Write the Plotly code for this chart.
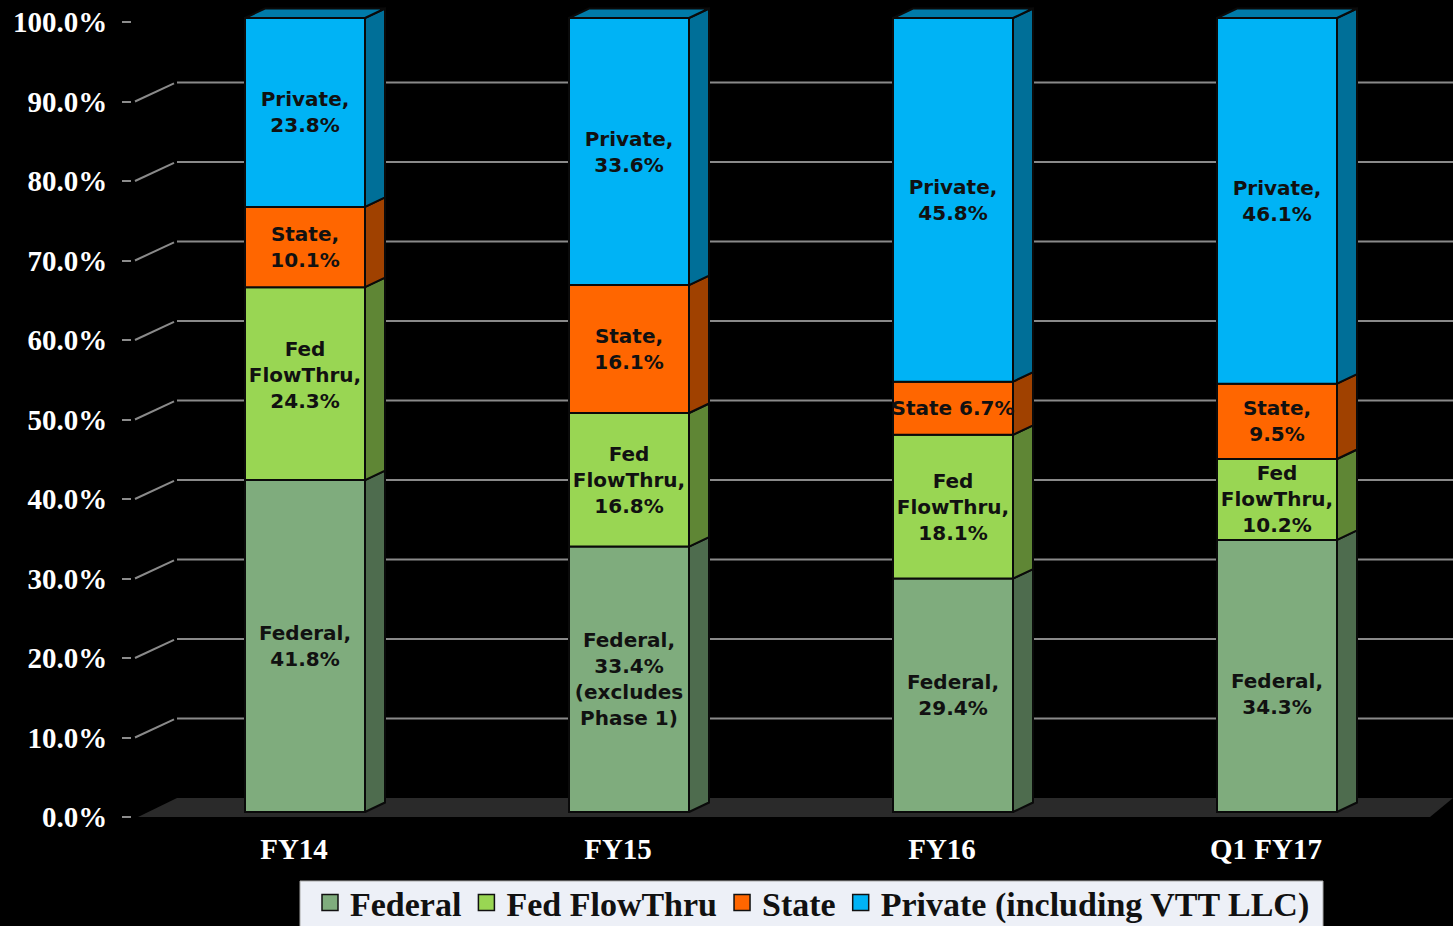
import plotly.graph_objects as go

# ---- data ----
categories = ["FY14", "FY15", "FY16", "Q1 FY17"]
series_names = ["Federal", "Fed FlowThru", "State", "Private (including VTT LLC)"]
federal = [41.8, 33.4, 29.4, 34.3]
flowthru = [24.3, 16.8, 18.1, 10.2]
state = [10.1, 16.1, 6.7, 9.5]
private = [23.8, 33.6, 45.8, 46.1]
federal_labels = ["Federal,<br>41.8%", "Federal,<br>33.4%<br>(excludes<br>Phase 1)", "Federal,<br>29.4%", "Federal,<br>34.3%"]
flowthru_labels = ["Fed<br>FlowThru,<br>24.3%", "Fed<br>FlowThru,<br>16.8%", "Fed<br>FlowThru,<br>18.1%", "Fed<br>FlowThru,<br>10.2%"]
state_labels = ["State,<br>10.1%", "State,<br>16.1%", "State 6.7%", "State,<br>9.5%"]
private_labels = ["Private,<br>23.8%", "Private,<br>33.6%", "Private,<br>45.8%", "Private,<br>46.1%"]
y_ticks = [0, 10, 20, 30, 40, 50, 60, 70, 80, 90, 100]
y_tick_labels = ["0.0%", "10.0%", "20.0%", "30.0%", "40.0%", "50.0%", "60.0%", "70.0%", "80.0%", "90.0%", "100.0%"]

# ---- styles ----
front_colors = ["#7FAC7D", "#99D653", "#FF6600", "#00B3F5"]
side_colors = ["#4E6C4E", "#5F8635", "#A04100", "#006F98"]
top_color = "#007BA9"
floor_color = "#2A2A2A"
grid_color = "#8A8A8A"
SERIF = "Liberation Serif"
SANS = "DejaVu Sans"

# projection constants of the pseudo-3D chart, in axis units
PX_X = 324.0           # pixels per category
PX_Y = 7.95            # pixels per percent
BAR_W = 120 / PX_X
BAR_BASE = 5 / PX_Y
BAR_SCALE = 794 / 795  # front face height of a full 100% stack
DEPTH_X = 20 / PX_X
DEPTH_Y = 9.5 / PX_Y
WALL_X0 = (177 - 305) / PX_X
WALL_DY = 19 / PX_Y
X_RANGE = [(132 - 305) / PX_X, (1453 - 305) / PX_X]
Y_RANGE = [0, 817 / PX_Y]
FLOOR_X0 = (138 - 305) / PX_X
FLOOR_X1 = (1430 - 305) / PX_X
DIAG_X0 = (135 - 305) / PX_X
DIAG_X1 = (174 - 305) / PX_X
LABEL_SHIFT = -11 / PX_X
# label nudges (pixels, up positive) per (series, category); the rest sit centred
label_nudge = {(1, 0): 8.5, (0, 3): -18}
LABEL_DROP = -2

xs = list(range(len(categories)))
stacks = [federal, flowthru, state, private]
labels = [federal_labels, flowthru_labels, state_labels, private_labels]
totals = [sum(s[i] for s in stacks) for i in xs]
# stacked to 100%
shares = [[v / totals[i] * 100 * BAR_SCALE for i, v in enumerate(s)] for s in stacks]

fig = go.Figure()

# floor
fig.add_trace(go.Scatter(
    x=[FLOOR_X0, WALL_X0, X_RANGE[1], FLOOR_X1, FLOOR_X0],
    y=[0, WALL_DY, WALL_DY, 0, 0],
    mode="lines", fill="toself", fillcolor=floor_color, line=dict(width=0),
    showlegend=False, hoverinfo="skip"))

# back-wall gridlines with their diagonals to the axis
for t in y_ticks[1:-1]:
    fig.add_trace(go.Scatter(
        x=[DIAG_X0, DIAG_X1, None, WALL_X0, X_RANGE[1]],
        y=[t, t + WALL_DY - 0.1, None, t + WALL_DY, t + WALL_DY],
        mode="lines", line=dict(color=grid_color, width=2),
        showlegend=False, hoverinfo="skip"))

# side faces and top
cum = [0.0] * len(categories)
bases = []
for vals, col in zip(shares, side_colors):
    px, py = [], []
    base = list(cum)
    for i, x in enumerate(xs):
        y0 = BAR_BASE + cum[i]
        y1 = y0 + vals[i]
        xr = x + BAR_W / 2
        px += [xr, xr + DEPTH_X, xr + DEPTH_X, xr, xr, None]
        py += [y0, y0 + DEPTH_Y, y1 + DEPTH_Y, y1, y0, None]
        cum[i] += vals[i]
    bases.append([b + BAR_BASE for b in base])
    fig.add_trace(go.Scatter(x=px, y=py, mode="lines", fill="toself", fillcolor=col,
                             line=dict(color="#0A0A0A", width=2),
                             showlegend=False, hoverinfo="skip"))
px, py = [], []
for i, x in enumerate(xs):
    yt = BAR_BASE + cum[i]
    xl, xr = x - BAR_W / 2, x + BAR_W / 2
    px += [xl, xl + DEPTH_X, xr + DEPTH_X, xr, xl, None]
    py += [yt, yt + DEPTH_Y, yt + DEPTH_Y, yt, yt, None]
fig.add_trace(go.Scatter(x=px, y=py, mode="lines", fill="toself", fillcolor=top_color,
                         line=dict(color="#0A0A0A", width=2),
                         showlegend=False, hoverinfo="skip"))

# front faces (on an overlaid axis pair so they paint above the lines)
for name, vals, base, col in zip(series_names, shares, bases, front_colors):
    fig.add_trace(go.Bar(
        x=xs, y=vals, base=base, width=BAR_W, name=name, xaxis="x2", yaxis="y2",
        marker=dict(color=col, line=dict(color="#0A0A0A", width=2)),
        showlegend=False, hoverinfo="skip"))

# data labels
for s, (vals, base, txt) in enumerate(zip(shares, bases, labels)):
    ys = [base[i] + vals[i] / 2 + (label_nudge.get((s, i), 0) + LABEL_DROP) / PX_Y for i in xs]
    fig.add_trace(go.Scatter(
        x=xs, y=ys, text=txt, mode="text", textposition="middle center",
        xaxis="x2", yaxis="y2", cliponaxis=False,
        textfont=dict(family=SANS, size=20, color="#111111", weight="bold"),
        showlegend=False, hoverinfo="skip"))

# legend entries
for name, col in zip(series_names, front_colors):
    fig.add_trace(go.Scatter(
        x=[None], y=[None], mode="markers", name=name,
        marker=dict(symbol="square", size=17, color=col, line=dict(color="#111111", width=1.5))))

# legend panel
PLOT_W, PLOT_H = 1453 - 132, 817
fig.add_shape(type="rect", xref="paper", yref="paper", layer="above",
              x0=(300 - 132) / PLOT_W, x1=(1323 - 132) / PLOT_W,
              y0=(817 - 930) / PLOT_H, y1=(817 - 881) / PLOT_H,
              fillcolor="#EDF0F7", line=dict(color="#A8A8A8", width=1))

fig.update_layout(
    width=1453, height=926,
    margin=dict(l=132, r=0, t=0, b=109),
    paper_bgcolor="#000000", plot_bgcolor="#000000",
    barmode="overlay",
    font=dict(family=SERIF, color="#FFFFFF"),
    xaxis=dict(range=X_RANGE, tickmode="array", tickvals=[x + LABEL_SHIFT for x in xs],
               ticktext=categories, showgrid=False, zeroline=False, showline=False, ticks="",
               tickfont=dict(family=SERIF, size=29, color="#FFFFFF", weight="bold"),
               ticklabelstandoff=12),
    yaxis=dict(range=Y_RANGE, tickmode="array", tickvals=y_ticks, ticktext=y_tick_labels,
               showgrid=False, zeroline=False, showline=False, ticks="outside", ticklen=9,
               tickwidth=1.5, tickcolor="#8C8C8C",
               tickfont=dict(family=SERIF, size=29, color="#FFFFFF", weight="bold"),
               ticklabelstandoff=9),
    xaxis2=dict(range=X_RANGE, overlaying="x", visible=False),
    yaxis2=dict(range=Y_RANGE, overlaying="y", visible=False),
    legend=dict(orientation="h", xref="container", yref="container",
                x=310 / 1453, y=1 - 874 / 926, xanchor="left", yanchor="top",
                bgcolor="rgba(0,0,0,0)", itemsizing="trace",
                font=dict(family=SERIF, size=34, color="#111111", weight="bold"),
                tracegroupgap=0),
)

fig.write_html("out.html", config=dict(displayModeBar=False),
               post_script="document.body.style.margin='0';document.body.style.background='#000';")
